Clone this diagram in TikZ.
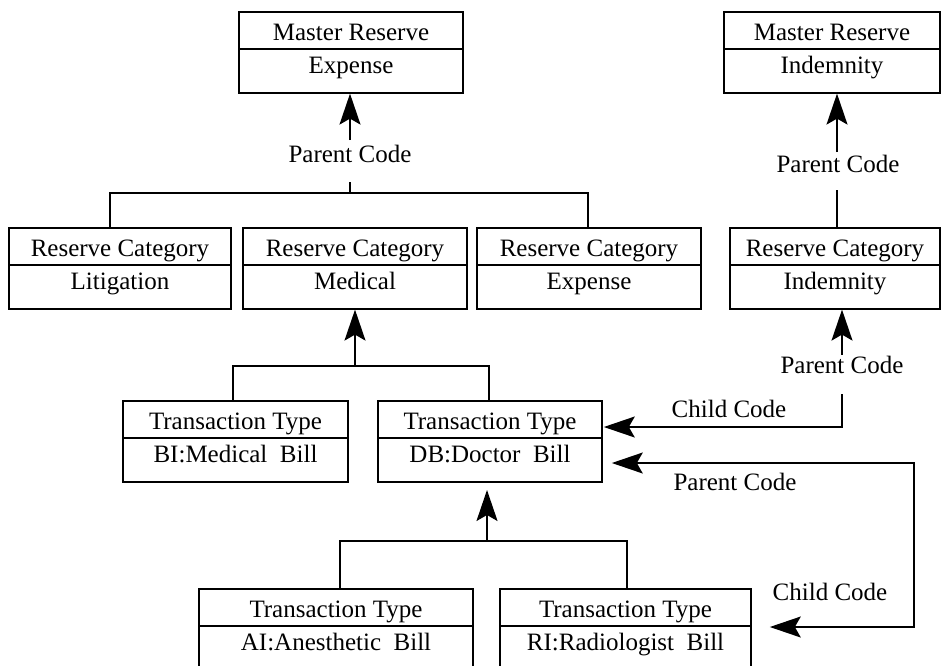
\documentclass[tikz,border=0pt]{standalone}
\usepackage{fontspec}
\setmainfont{Liberation Serif}
\usetikzlibrary{arrows.meta,calc}
\newcommand{\umlbox}[6]{%
  \node[boxsty, minimum width=#4pt, minimum height=81pt] (#1) at (#2,#3) {};
  \draw[conn] ([yshift=-38pt]#1.north west) -- ([yshift=-38pt]#1.north east);
  \node[txt] (#1-a) at (#2,#3+29) {#5};
  \node[txt] (#1-b) at (#2,#3+62) {#6};
}
\begin{document}
\begin{tikzpicture}[x=1pt,y=-1pt,
  boxsty/.style={draw, line width=1.6pt, rectangle, inner sep=0pt, anchor=north},
  txt/.style={font=\fontsize{25}{29}\selectfont, inner sep=0pt, anchor=base},
  conn/.style={line width=1.6pt},
  tip/.tip={Stealth[length=31pt,width=21pt,inset=6pt]},
  arr/.style={conn, -tip}
]
\useasboundingbox (0,0) rectangle (942,665);
\clip (0,0) rectangle (942,665);

% boxes
\umlbox{mre}{351}{11}{224}{Master Reserve}{Expense}
\umlbox{mri}{832}{11}{216}{Master Reserve}{Indemnity}
\umlbox{rcl}{120}{227}{222}{Reserve Category}{Litigation}
\umlbox{rcm}{355}{227}{224}{Reserve Category}{Medical}
\umlbox{rce}{589}{227}{224}{Reserve Category}{Expense}
\umlbox{rci}{835}{227}{210}{Reserve Category}{Indemnity}
\umlbox{tbi}{235.5}{400}{225}{Transaction Type}{BI:Medical\ \ Bill}
\umlbox{tdb}{490}{400}{224}{Transaction Type}{DB:Doctor\ \ Bill}
\umlbox{tai}{336}{588}{274}{Transaction Type}{AI:Anesthetic\ \ Bill}
\umlbox{tri}{625.5}{588}{251}{Transaction Type}{RI:Radiologist\ \ Bill}

% Master Reserve Expense group
\coordinate (j1) at (350,193);
\draw[conn] ([xshift=-10pt]rcl.north) -- ++(0,-34) -| ([xshift=-1pt]rce.north);
\draw[conn] (j1) -- ++(0,-11);
\node[txt] (l1) at (350,162) {Parent Code};
\coordinate (a1) at (350,140);
\draw[arr] (a1) -- (a1 |- mre.south);

% Master Reserve Indemnity
\coordinate (c2) at (837,190);
\draw[conn] (c2) -- (c2 |- rci.north);
\node[txt] (l2) at (838,172) {Parent Code};
\coordinate (c3) at (837,152);
\draw[arr] (c3) -- (c3 |- mri.south);

% Medical group
\coordinate (j2) at (355,366);
\draw[conn] ([xshift=-2.5pt]tbi.north) -- ++(0,-34) -| ([xshift=-1pt]tdb.north);
\draw[arr] (j2) -- (j2 |- rcm.south);

% Indemnity -> Doctor Bill
\coordinate (c4) at (842,355);
\draw[arr] (c4) -- (c4 |- rci.south);
\node[txt] (l3) at (842,373) {Parent Code};
\coordinate (c5) at (842,394);
\draw[arr] (c5) |- ($(tdb.north east)+(1,27)$);
\node[txt] (l4) at (729,417) {Child Code};

% loop Doctor Bill <-> Radiologist Bill
\draw[conn, tip-tip] ($(tdb.north east)+(9,63)$) -- ++(302,0) |- ($(tri.north east)+(18,39)$);
\node[txt] (l5) at (735,490) {Parent Code};
\node[txt] (l6) at (830,600) {Child Code};

% Doctor Bill group
\coordinate (j3) at (487,541);
\draw[conn] ([xshift=4pt]tai.north) -- ++(0,-47) -| ([xshift=1.5pt]tri.north);
\draw[arr] (j3) -- ++(0,-51);
\end{tikzpicture}
\end{document}
